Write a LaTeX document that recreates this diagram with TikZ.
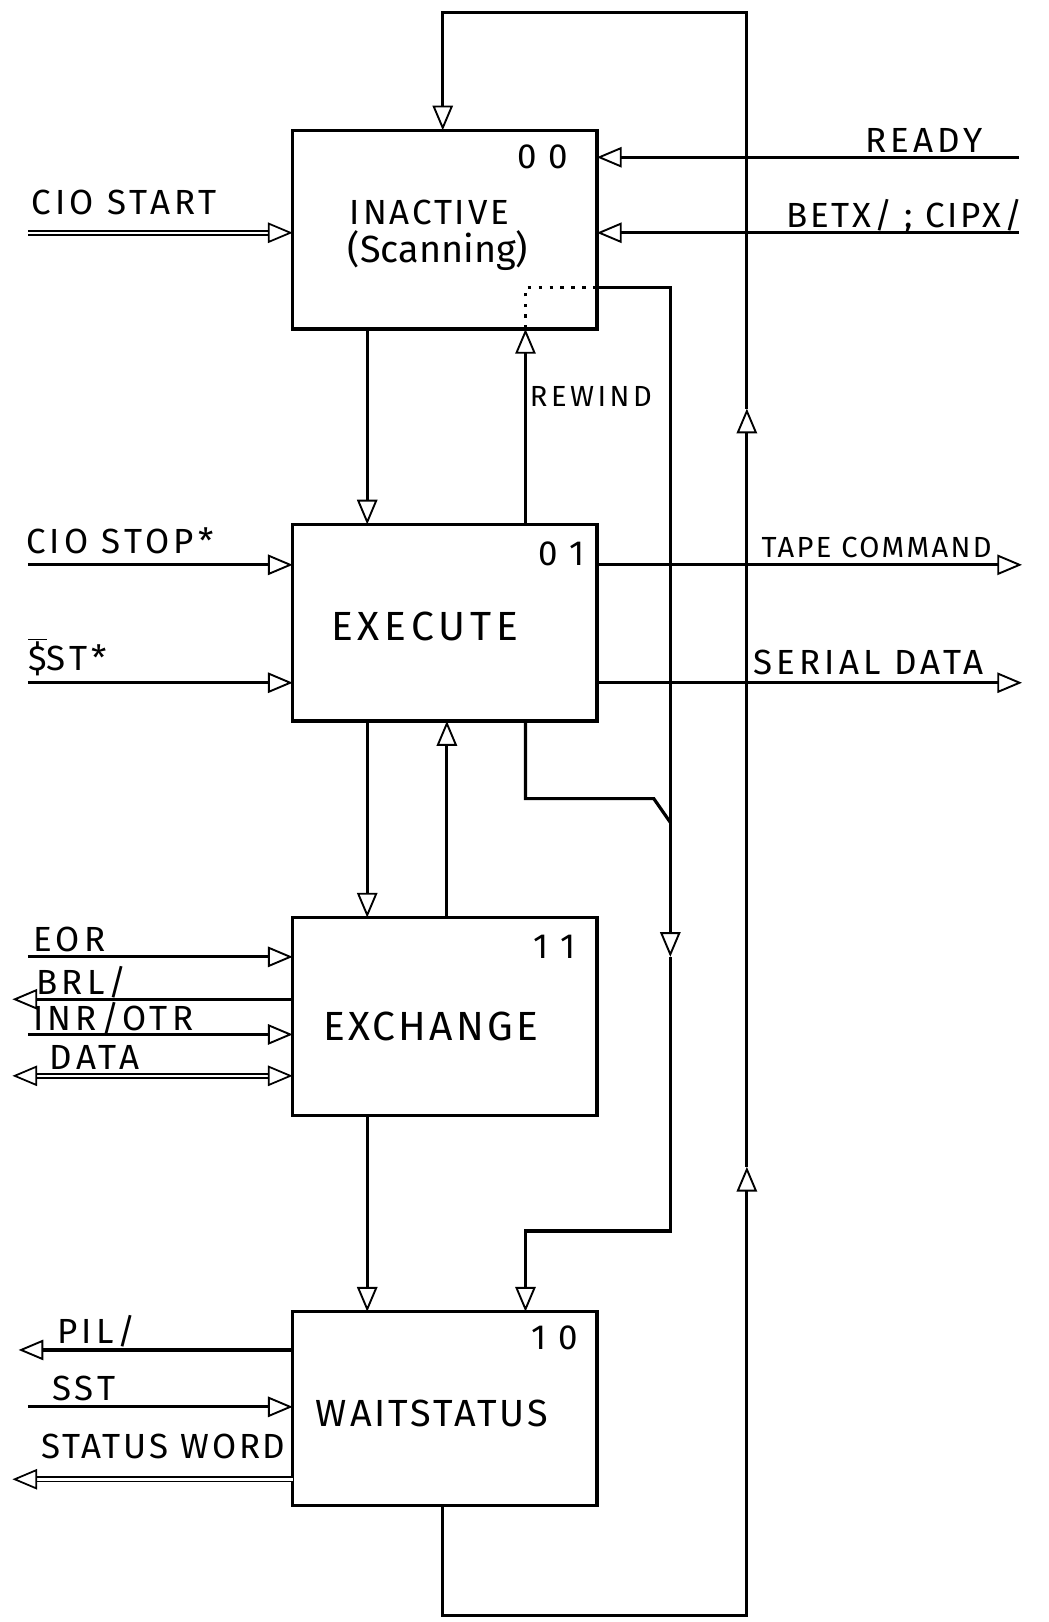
\documentclass[tikz,border=0pt]{standalone}
\usepackage{fontspec}
\setmainfont{Fira Sans}
\newfontfamily\hand[LetterSpace=12]{Fira Sans}
\newfontfamily\handn[LetterSpace=8]{Fira Sans}
\usetikzlibrary{arrows.meta}
\tikzset{
  ln/.style={line width=2.2pt, line join=miter},
  arr/.style={ln, -{Triangle[open, length=17pt, width=14pt, line width=1.3pt]}},
  dbl/.style={line width=1.2pt, double, double distance=1.7pt},
  dblarr/.style={dbl, -{Triangle[open, length=17pt, width=14pt, line width=1.2pt]}},
  dblarrb/.style={dbl, {Triangle[open, length=17pt, width=14pt, line width=1.2pt]}-{Triangle[open, length=17pt, width=14pt, line width=1.2pt]}},
  statebox/.style={draw, line width=2.2pt, inner sep=0pt, outer sep=0pt, minimum width=7.35cm},
  sig/.style={font=\hand\fontsize{24}{28}\selectfont, inner sep=0pt, anchor=base west},
  bname/.style={font=\hand\fontsize{28}{32}\selectfont, inner sep=0pt, anchor=base west},
  code/.style={font=\fontsize{24}{28}\selectfont, inner sep=0pt}
}
\begin{document}
\begin{tikzpicture}[x=0.025cm, y=-0.025cm]
\useasboundingbox[fill=white] (0,0) rectangle (1014,1568);

% state boxes
\node[statebox, minimum height=4.8cm]  (ina) at (430,222) {};
\node[statebox, minimum height=4.75cm] (exe) at (430,602) {};
\node[statebox, minimum height=4.775cm] (exc) at (430,982.5) {};
\node[statebox, minimum height=4.675cm] (wai) at (430,1361.5) {};

% box texts
\node[code] (c00) at (525,152) {0\,\,0};
\node[sig, font=\handn\fontsize{24}{28}\selectfont] (tina) at (338,217) {INACTIVE};
\node[sig, font=\fontsize{26}{30}\selectfont] (tscan) at (336,254) {(Scanning)};
\node[code] (c01) at (543,535) {0\,\,1};
\node[bname] (texe) at (320,619) {EXECUTE};
\node[code] (c11) at (536,915) {1\,\,1};
\node[bname, font=\handn\fontsize{28}{32}\selectfont] (texc) at (312,1006) {EXCHANGE};
\node[code] (c10) at (536,1293) {1\,\,0};
\node[bname, font=\handn\fontsize{26}{30}\selectfont] (twai) at (305,1379) {WAITSTATUS};

% helper coordinates
\coordinate (c355) at (355,0);
\coordinate (c432) at (432,0);
\coordinate (c508) at (508,0);
\coordinate (tl) at (428,12);
\coordinate (tr) at (722,12);
\coordinate (bl) at (428,1562);
\coordinate (br) at (722,1562);
\coordinate (up1) at (722,1128);
\coordinate (up2) at (722,395);
\coordinate (d1) at (508,278);
\coordinate (r1) at (648,278);
\coordinate (dn1) at (648,925);
\coordinate (r2) at (648,1190);
\coordinate (l2) at (508,1190);
\coordinate (b1) at (508,772);
\coordinate (b2) at (632,772);
\coordinate (b3) at (648,795);

% big return loop
\draw[arr] (wai.south -| bl) -- (bl) -- (br) -- (up1);
\draw[arr] (up1) -- (up2);
\draw[arr] (up2) -- (tr) -- (tl) -- (ina.north -| tl);

% vertical transitions
\draw[arr] (ina.south -| c355) -- (exe.north -| c355);
\draw[arr] (exe.north -| c508) -- (ina.south -| c508);
\draw[arr] (exe.south -| c355) -- (exc.north -| c355);
\draw[arr] (exc.north -| c432) -- (exe.south -| c432);
\draw[arr] (exc.south -| c355) -- (wai.north -| c355);

% dotted + right branch
\draw[line width=1.8pt, dash pattern=on 2.5pt off 5pt] (ina.south -| d1) -- (d1) -- (d1 -| ina.east);
\draw[arr] (d1 -| ina.east) -- (r1) -- (dn1);
\draw[arr] (dn1) -- (r2) -- (l2) -- (wai.north -| c508);
\draw[ln] (exe.south -| c508) -- (b1) -- (b2) -- (b3);

\node[sig, font=\hand\fontsize{20}{24}\selectfont] (trew) at (512,393) {REWIND};

% INACTIVE signals
\coordinate (s1) at (27,225);
\draw[dblarr] (s1) -- (s1 -| ina.west);
\node[sig] (tstart) at (30,207) {CIO START};
\coordinate (s2) at (985,152);
\draw[arr] (s2) -- (s2 -| ina.east);
\node[sig] (tready) at (836,147) {READY};
\coordinate (s3) at (985,225);
\draw[arr] (s3) -- (s3 -| ina.east);
\node[sig, font=\handn\fontsize{24}{28}\selectfont] (tbetx) at (760,220) {BETX/ ; CIPX/};

% EXECUTE signals
\coordinate (s4) at (27,546);
\draw[arr] (s4) -- (s4 -| exe.west);
\node[sig] (tstop) at (25,535) {CIO STOP*};
\coordinate (s5) at (27,660);
\draw[arr] (s5) -- (s5 -| exe.west);
\node[sig] (tbst) at (27,648) {$\overline{\mbox{\$}}$ST*};
\coordinate (s6) at (988,546);
\draw[arr] (exe.east |- s6) -- (s6);
\node[sig, font=\handn\fontsize{20}{24}\selectfont] (ttape) at (736,539) {TAPE COMMAND};
\coordinate (s7) at (988,660);
\draw[arr] (exe.east |- s7) -- (s7);
\node[sig] (tser) at (728,652) {SERIAL DATA};

% EXCHANGE signals
\coordinate (s8) at (27,925);
\draw[arr] (s8) -- (s8 -| exc.west);
\node[sig] (teor) at (32,920) {EOR};
\coordinate (s9) at (12,966);
\draw[arr] (s9 -| exc.west) -- (s9);
\node[sig] (tbrl) at (35,961) {BRL/};
\coordinate (s10) at (27,1000);
\draw[arr] (s10) -- (s10 -| exc.west);
\node[sig] (tinr) at (32,996) {INR/OTR};
\coordinate (s11) at (12,1040);
\draw[dblarrb] (s11) -- (s11 -| exc.west);
\node[sig] (tdata) at (48,1034) {DATA};

% WAITSTATUS signals
\coordinate (s12) at (18,1305);
\draw[arr] (s12 -| wai.west) -- (s12);
\node[sig] (tpil) at (55,1299) {PIL/};
\coordinate (s13) at (27,1360);
\draw[arr] (s13) -- (s13 -| wai.west);
\node[sig] (tsst) at (50,1354) {SST};
\coordinate (s14) at (12,1430);
\draw[dblarr] (s14 -| wai.west) -- (s14);
\node[sig, font=\handn\fontsize{24}{28}\selectfont] (tsw) at (40,1410) {STATUS WORD};
\end{tikzpicture}
\end{document}
